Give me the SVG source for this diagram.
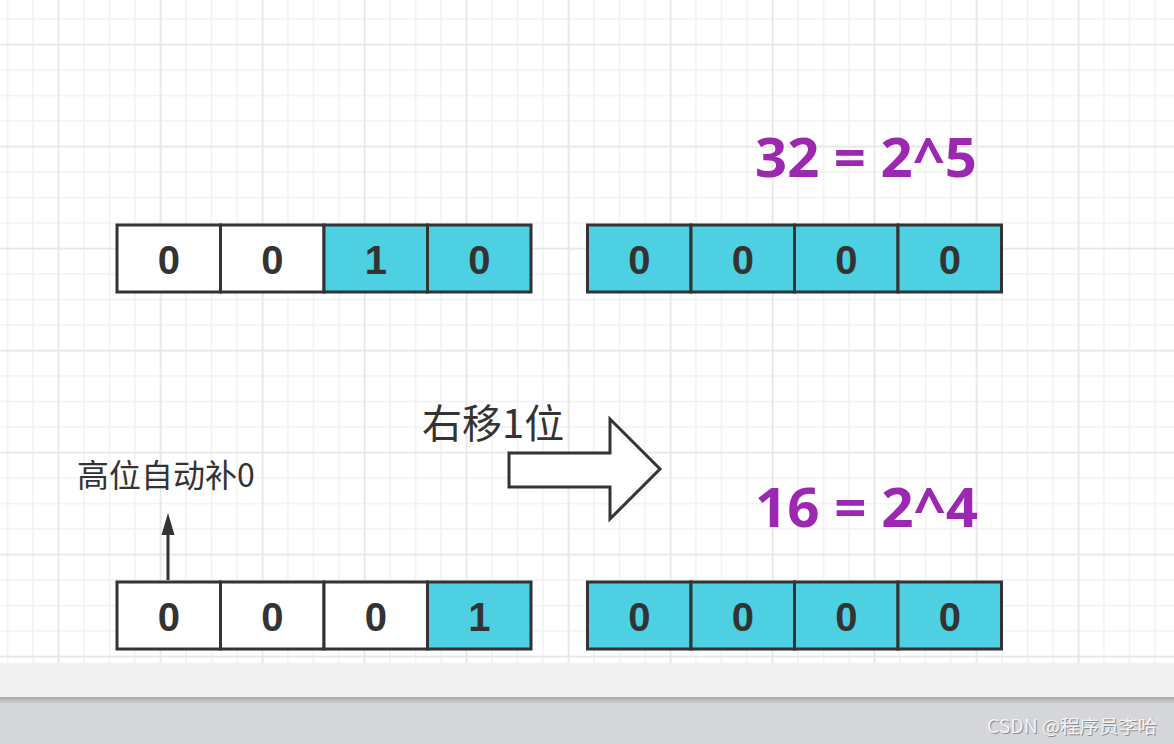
<svg xmlns="http://www.w3.org/2000/svg" width="1174" height="744" viewBox="0 0 1174 744">
  <defs>
    <pattern id="minor" width="25.5" height="25.5" patternUnits="userSpaceOnUse" x="6.75" y="18.25">
      <rect width="1.5" height="25.5" fill="#f1f1f1"/>
      <rect width="25.5" height="1.5" fill="#f1f1f1"/>
    </pattern>
    <pattern id="major" width="102" height="102" patternUnits="userSpaceOnUse" x="57.75" y="43.75">
      <rect width="1.5" height="102" fill="#e6e6e6"/>
      <rect width="102" height="1.5" fill="#e6e6e6"/>
    </pattern>
    <linearGradient id="shadow" x1="0" y1="0" x2="0" y2="1">
      <stop offset="0" stop-color="#a6a7ab"/>
      <stop offset="1" stop-color="#d5d6da"/>
    </linearGradient>
    <style>
      .cell { stroke: #333333; stroke-width: 3; }
      .w { fill: #ffffff; }
      .c { fill: #4dd0e1; }
      .digit { font-family: "Liberation Sans", Arial, sans-serif; font-weight: bold; font-size: 40px; fill: #333333; text-anchor: middle; }
      .eq { font-family: "Open Sans", "Liberation Sans", sans-serif; font-weight: bold; font-size: 53px; fill: #9c27b0; }
      .lbl { font-family: "Noto Sans CJK SC", "Liberation Sans", sans-serif; fill: #333333; }
    </style>
  </defs>

  <!-- background grid -->
  <rect x="0" y="0" width="1174" height="663" fill="#ffffff"/>
  <rect x="0" y="0" width="1174" height="663" fill="url(#minor)"/>
  <rect x="0" y="0" width="1174" height="663" fill="url(#major)"/>
  <rect x="0" y="663" width="1174" height="34" fill="#f1f1f1"/>
  <rect x="0" y="697" width="1174" height="47" fill="#d5d6da"/>
  <rect x="0" y="697" width="1174" height="7" fill="url(#shadow)"/>

  <!-- top left register -->
  <g id="reg-top-left">
    <rect class="cell w" x="117" y="225" width="103.5" height="67"/>
    <rect class="cell w" x="220.5" y="225" width="103.5" height="67"/>
    <rect class="cell c" x="324" y="225" width="103.5" height="67"/>
    <rect class="cell c" x="427.5" y="225" width="103.5" height="67"/>
    <text class="digit" x="168.75" y="274">0</text>
    <text class="digit" x="272.25" y="274">0</text>
    <text class="digit" x="375.75" y="274">1</text>
    <text class="digit" x="479.25" y="274">0</text>
  </g>

  <!-- top right register -->
  <g id="reg-top-right">
    <rect class="cell c" x="587.5" y="225" width="103.5" height="67"/>
    <rect class="cell c" x="691" y="225" width="103.5" height="67"/>
    <rect class="cell c" x="794.5" y="225" width="103.5" height="67"/>
    <rect class="cell c" x="898" y="225" width="103.5" height="67"/>
    <text class="digit" x="639.25" y="274">0</text>
    <text class="digit" x="742.75" y="274">0</text>
    <text class="digit" x="846.25" y="274">0</text>
    <text class="digit" x="949.75" y="274">0</text>
  </g>

  <!-- bottom left register -->
  <g id="reg-bottom-left">
    <rect class="cell w" x="117" y="582" width="103.5" height="67"/>
    <rect class="cell w" x="220.5" y="582" width="103.5" height="67"/>
    <rect class="cell w" x="324" y="582" width="103.5" height="67"/>
    <rect class="cell c" x="427.5" y="582" width="103.5" height="67"/>
    <text class="digit" x="168.75" y="631">0</text>
    <text class="digit" x="272.25" y="631">0</text>
    <text class="digit" x="375.75" y="631">0</text>
    <text class="digit" x="479.25" y="631">1</text>
  </g>

  <!-- bottom right register -->
  <g id="reg-bottom-right">
    <rect class="cell c" x="587.5" y="582" width="103.5" height="67"/>
    <rect class="cell c" x="691" y="582" width="103.5" height="67"/>
    <rect class="cell c" x="794.5" y="582" width="103.5" height="67"/>
    <rect class="cell c" x="898" y="582" width="103.5" height="67"/>
    <text class="digit" x="639.25" y="631">0</text>
    <text class="digit" x="742.75" y="631">0</text>
    <text class="digit" x="846.25" y="631">0</text>
    <text class="digit" x="949.75" y="631">0</text>
  </g>

  <g id="eq-top">
    <text class="eq" x="755" y="177" textLength="222" lengthAdjust="spacingAndGlyphs">32 = 2^5</text>
  </g>
  <g id="eq-bottom">
    <text class="eq" x="755" y="527" textLength="223" lengthAdjust="spacingAndGlyphs">16 = 2^4</text>
  </g>

  <g id="shift-arrow">
    <polygon points="509,453 610,453 610,419 660,469 610,519 610,487 509,487" fill="#ffffff" stroke="#333333" stroke-width="3" stroke-linejoin="miter"/>
    <text class="lbl" x="422" y="438" font-size="40">右移1位</text>
  </g>

  <g id="fill-label">
    <text class="lbl" x="77" y="487" font-size="32">高位自动补0</text>
  </g>

  <g id="connectors">
    <line x1="168" y1="580" x2="168" y2="532" stroke="#333333" stroke-width="3"/>
    <polygon points="168,513 161.5,535 174.5,535" fill="#333333"/>
  </g>

  <g id="watermark">
    <text x="988" y="734" font-family="Noto Sans CJK SC, Liberation Sans, sans-serif" font-size="18" fill="#8a8b8f" textLength="170" lengthAdjust="spacingAndGlyphs">CSDN @程序员李哈</text>
    <text x="987" y="733" font-family="Noto Sans CJK SC, Liberation Sans, sans-serif" font-size="18" fill="#f4f4f4" textLength="170" lengthAdjust="spacingAndGlyphs">CSDN @程序员李哈</text>
  </g>
</svg>
